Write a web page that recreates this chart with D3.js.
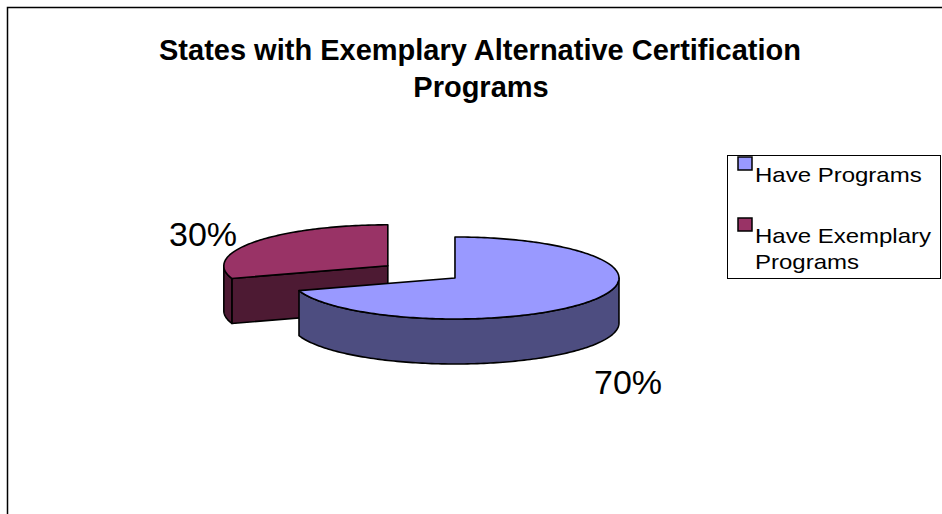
<!DOCTYPE html>
<html>
<meta charset="utf-8">
<style>
  body { margin: 0; background: #fff; }
  svg { width: 942px; height: 514px; display: block; }
  text { font-family: "Liberation Sans", Arial, sans-serif; }
</style>
<body>
  <svg></svg>
</body>
<script src="https://cdn.jsdelivr.net/npm/d3@7"></script>
<script>

  // data
  var categories = ["Have Programs", "Have Exemplary Programs"];
  var values = [70, 30];
  var valueLabels = ["70%", "30%"];
  var topColors = ["#9999ff", "#993366"];
  var sideColors = ["#4d4d80", "#4d1a33"];

  var svg = d3.select("svg");

  // chart area border (only top/left show in the frame)
  svg.append("rect")
    .attr("x", 7.5).attr("y", 7.5)
    .attr("width", 1000).attr("height", 600)
    .attr("fill", "none").attr("stroke", "#000").attr("stroke-width", 1.5);

  // title
  var title = svg.append("text")
    .attr("text-anchor", "middle")
    .attr("font-weight", "bold")
    .attr("font-size", 29);
  title.append("tspan").attr("x", 480).attr("y", 60).text("States with Exemplary Alternative Certification");
  title.append("tspan").attr("x", 481).attr("y", 97).text("Programs");

  // 3D pie geometry
  var cx = 421.4, cy = 271.9, rx = 164, ry = 41, depth = 45, explode = 41.5;

  var pie = d3.pie().sort(null).startAngle(0).endAngle(2 * Math.PI);
  var arcs = pie(values);

  function pt(c, a, r, dz) {
    return [c[0] + rx * r * Math.sin(a), c[1] - ry * r * Math.cos(a) + (dz || 0)];
  }
  var line = d3.line();

  function arcPoints(c, a0, a1, dz) {
    var n = Math.max(2, Math.ceil((a1 - a0) / 0.02));
    return d3.range(n + 1).map(function(i){ return pt(c, a0 + (a1 - a0) * i / n, 1, dz); });
  }

  arcs.forEach(function(d, i){
    var mid = (d.startAngle + d.endAngle) / 2;
    d.center = [cx + explode * Math.sin(mid), cy - explode * Math.cos(mid) * ry / rx];
    d.index = i;
  });

  // back slices first
  var order = arcs.slice().sort(function(a, b){ return a.center[1] - b.center[1]; });

  var g = svg.append("g")
    .attr("stroke", "#000").attr("stroke-width", 1.6).attr("stroke-linejoin", "round");

  order.forEach(function(d){
    var c = d.center, a0 = d.startAngle, a1 = d.endAngle, i = d.index;

    // radial faces that face the viewer
    [[a0, a0 - Math.PI / 2], [a1, a1 + Math.PI / 2]].forEach(function(f){
      if (Math.cos(f[1]) < -1e-6) {
        var p = pt(c, f[0], 1);
        g.append("path")
          .attr("fill", sideColors[i])
          .attr("d", line([c, p, [p[0], p[1] + depth], [c[0], c[1] + depth]]) + "Z");
      }
    });

    // curved outer side (front half only)
    var s = Math.max(a0, Math.PI / 2), e = Math.min(a1, 3 * Math.PI / 2);
    if (e > s) {
      var topPts = arcPoints(c, s, e, 0);
      var botPts = arcPoints(c, s, e, depth).reverse();
      g.append("path")
        .attr("fill", sideColors[i])
        .attr("d", line(topPts.concat(botPts)) + "Z");
    }

    // top face
    g.append("path")
      .attr("fill", topColors[i])
      .attr("d", line([c].concat(arcPoints(c, a0, a1, 0))) + "Z");
  });

  // value labels
  var labelPos = [[628, 394], [203, 246]];
  svg.selectAll(".vlabel").data(arcs).enter().append("text")
    .attr("class", "vlabel")
    .attr("text-anchor", "middle")
    .attr("font-size", 34)
    .attr("x", function(d, i){ return labelPos[i][0]; })
    .attr("y", function(d, i){ return labelPos[i][1]; })
    .text(function(d, i){ return valueLabels[i]; });

  // legend
  var legend = svg.append("g");
  legend.append("rect")
    .attr("x", 727.5).attr("y", 155.5).attr("width", 213).attr("height", 123)
    .attr("fill", "#fff").attr("stroke", "#000").attr("stroke-width", 1);

  var legendY = [157, 218];
  var items = legend.selectAll(".item").data(categories).enter().append("g")
    .attr("class", "item")
    .attr("transform", function(d, i){ return "translate(738," + legendY[i] + ")"; });

  items.append("rect")
    .attr("width", 14).attr("height", 13)
    .attr("fill", function(d, i){ return topColors[i]; })
    .attr("stroke", "#000").attr("stroke-width", 1.5);

  // legend text is slightly wide in the original, stretch it horizontally
  items.append("text")
    .attr("font-size", 20)
    .attr("transform", "translate(17,0) scale(1.2,1)")
    .each(function(d){
      var t = d3.select(this);
      var lines = d === "Have Exemplary Programs" ? ["Have Exemplary", "Programs"] : [d];
      lines.forEach(function(l, k){
        t.append("tspan").attr("x", 0).attr("y", 25 + k * 26).text(l);
      });
    });

</script>
</html>
